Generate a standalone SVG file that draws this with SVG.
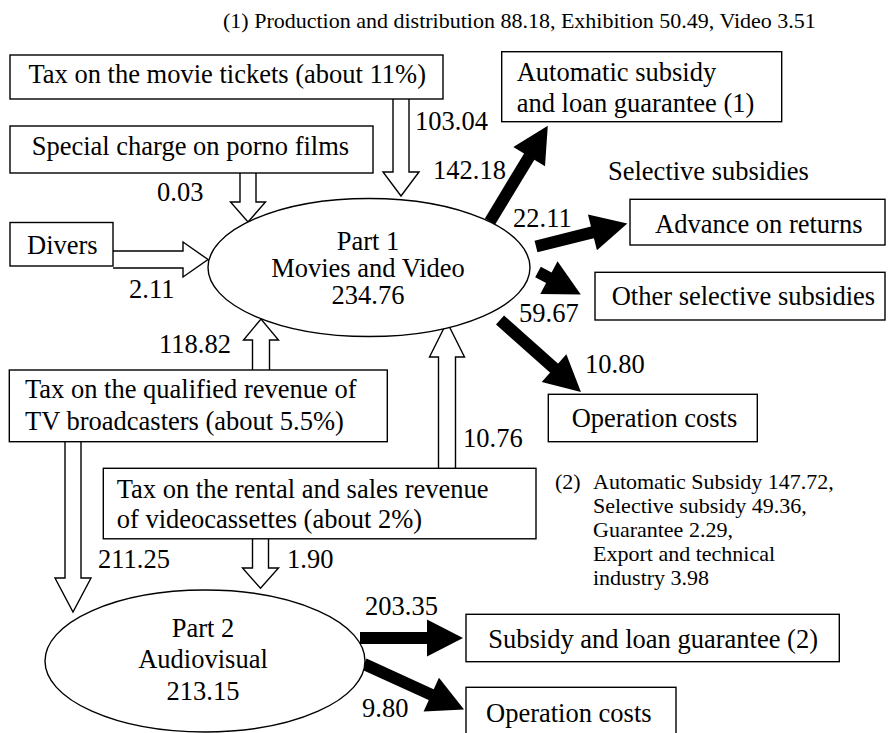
<svg xmlns="http://www.w3.org/2000/svg" width="889" height="733" viewBox="0 0 889 733" font-family="'Liberation Serif', 'Times New Roman', serif">
<style>
.t{font-family:"Liberation Serif","Times New Roman",serif;font-size:26.5px;fill:#000}
.note{font-size:22px}
.mid{text-anchor:middle}
.box{fill:#fff;stroke:#000;stroke-width:1.4}
.ell{fill:#fff;stroke:#000;stroke-width:1.4}
.hollow{fill:#fff;stroke:#000;stroke-width:1.4;stroke-linejoin:miter}
.solid{stroke:#000;stroke-width:12;fill:none;marker-end:url(#blk)}
</style>
<defs>
<marker id="blk" markerUnits="userSpaceOnUse" viewBox="0 0 36 37" refX="1" refY="18.5" markerWidth="36" markerHeight="37" orient="auto" overflow="visible">
<path d="M0,0 L36,18.5 L0,37 Z" fill="#000"/>
</marker>
</defs>

<text class="t note" x="223" y="28">(1) Production and distribution 88.18, Exhibition 50.49, Video 3.51</text>

<g id="connectors">
<path class="hollow" d="M393,99 V172 H383 L401,196 L419,172 H409 V99"/>
<path class="hollow" d="M240,173 V202 H230.5 L248,222 L265.5,202 H256 V173"/>
<path class="hollow" d="M113,251 H183 V242 L208,259.5 L183,277 V268 H113"/>
<path class="hollow" d="M252.5,370 V340 H243.5 L261,319 L278.5,340 H269.5 V370"/>
<path class="hollow" d="M438.5,468.3 V357 H429.5 L447,322 L464.5,357 H455.5 V468.3"/>
<path class="hollow" d="M65,441.7 V578 H55 L73,612 L91,578 H81 V441.7"/>
<path class="hollow" d="M252.5,538.3 V568 H242.5 L260.5,588.3 L278.5,568 H268.5 V538.3"/>
<line class="solid" x1="490" y1="221.5" x2="529.7" y2="155.8"/>
<line class="solid" x1="536" y1="246.5" x2="593.4" y2="232.1"/>
<line class="solid" x1="538" y1="272" x2="549.8" y2="278.2"/>
<line class="solid" x1="500" y1="320" x2="554.8" y2="368.8"/>
<line class="solid" x1="360" y1="638" x2="428" y2="638"/>
<line class="solid" x1="364" y1="664" x2="432.2" y2="695.1"/>
<text class="t" x="415" y="130">103.04</text>
<text class="t" x="157" y="201">0.03</text>
<text class="t" x="129" y="298">2.11</text>
<text class="t" x="433" y="179">142.18</text>
<text class="t" x="513" y="226.7">22.11</text>
<text class="t" x="519" y="322">59.67</text>
<text class="t" x="585" y="373">10.80</text>
<text class="t" x="159" y="353">118.82</text>
<text class="t" x="463" y="447">10.76</text>
<text class="t" x="98" y="568">211.25</text>
<text class="t" x="287" y="568">1.90</text>
<text class="t" x="365" y="615">203.35</text>
<text class="t" x="362" y="717">9.80</text>
</g>

<g id="tax-tickets"><rect class="box" x="10" y="55" width="433" height="44"/><text class="t" x="28.5" y="83">Tax on the movie tickets (about 11%)</text></g>
<g id="porno"><rect class="box" x="10" y="126" width="363" height="47"/><text class="t" x="31.7" y="155">Special charge on porno films</text></g>
<g id="divers"><rect class="box" x="10" y="222.5" width="103" height="43.5"/><text class="t" x="27" y="254">Divers</text></g>
<g id="part1"><ellipse class="ell" cx="369" cy="267.5" rx="161" ry="69"/><text class="t mid" x="368" y="250">Part 1</text><text class="t mid" x="368" y="277">Movies and Video</text><text class="t mid" x="368" y="304">234.76</text></g>
<g id="automatic"><rect class="box" x="501.7" y="51.7" width="280" height="70"/><text class="t" x="516.7" y="80.5">Automatic subsidy</text><text class="t" x="516.7" y="111.7">and loan guarantee (1)</text></g>
<g id="selective-label"><text class="t" x="608" y="180">Selective subsidies</text></g>
<g id="advance"><rect class="box" x="630" y="199.3" width="255" height="45.7"/><text class="t" x="655" y="233.3">Advance on returns</text></g>
<g id="other-selective"><rect class="box" x="595" y="272.3" width="290" height="47.7"/><text class="t" x="611.7" y="305">Other selective subsidies</text></g>
<g id="operation1"><rect class="box" x="548.3" y="394.3" width="209" height="47.4"/><text class="t" x="571.7" y="426.7">Operation costs</text></g>
<g id="tax-tv"><rect class="box" x="9.3" y="370" width="378" height="71.7"/><text class="t" x="25" y="398.3">Tax on the qualified revenue of</text><text class="t" x="25" y="430">TV broadcasters (about 5.5%)</text></g>
<g id="tax-video"><rect class="box" x="103.3" y="468.3" width="432.7" height="70.5"/><text class="t" x="116.7" y="498.3">Tax on the rental and sales revenue</text><text class="t" x="116.7" y="528.3">of videocassettes (about 2%)</text></g>
<g id="note2"><text class="t note" x="555" y="489">(2)</text><text class="t note" x="593" y="489">Automatic Subsidy 147.72,</text><text class="t note" x="593" y="513">Selective subsidy 49.36,</text><text class="t note" x="593" y="537">Guarantee 2.29,</text><text class="t note" x="593" y="561">Export and technical</text><text class="t note" x="593" y="585">industry 3.98</text></g>
<g id="part2"><ellipse class="ell" cx="205" cy="661" rx="160" ry="71"/><text class="t mid" x="203" y="637.3">Part 2</text><text class="t mid" x="203" y="668.3">Audiovisual</text><text class="t mid" x="203" y="700">213.15</text></g>
<g id="subsidy2"><rect class="box" x="466" y="614.3" width="373.3" height="47.4"/><text class="t" x="488.3" y="648.3">Subsidy and loan guarantee (2)</text></g>
<g id="operation2"><rect class="box" x="466" y="687.3" width="210" height="60"/><text class="t" x="486" y="721.7">Operation costs</text></g>
</svg>
